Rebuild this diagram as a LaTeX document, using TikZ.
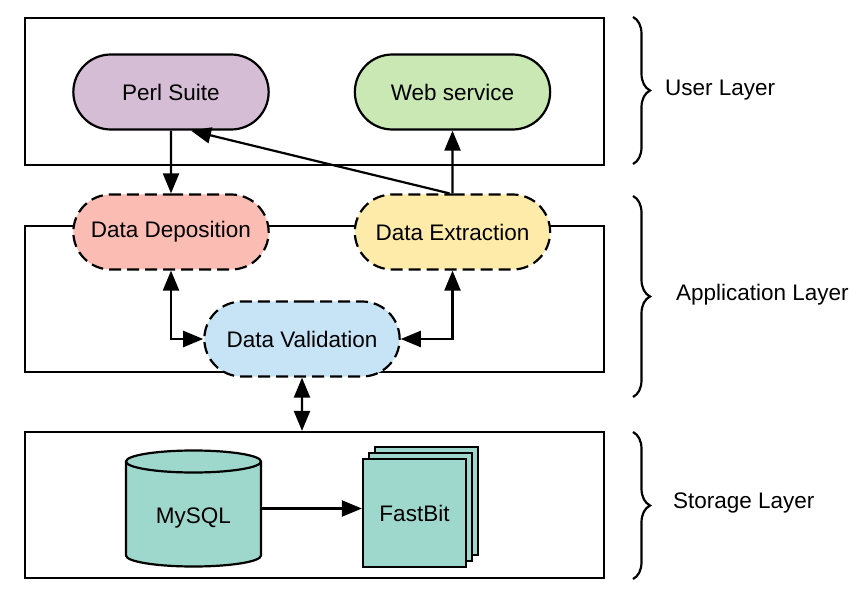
\documentclass[tikz,border=0pt]{standalone}
\usepackage{fontspec}
\setmainfont{Liberation Sans}
\usetikzlibrary{calc}
\usetikzlibrary{arrows.meta}
\usetikzlibrary{shapes.misc}
\usetikzlibrary{decorations.pathreplacing}
\usepackage{xcolor}

\definecolor{perlcol}{HTML}{D5BED5}
\definecolor{webcol}{HTML}{C9E8B3}
\definecolor{depcol}{HTML}{FBBCB4}
\definecolor{extcol}{HTML}{FEEBA9}
\definecolor{valcol}{HTML}{C6E4F6}
\definecolor{storecol}{HTML}{9ED8CC}

\begin{document}
\begin{tikzpicture}[x=1pt, y=-1pt, line width=2.2pt,
  >={Triangle[length=20pt,width=16pt]},
  font=\fontsize{22.5}{27}\selectfont,
  layer/.style={draw, rectangle, inner sep=0pt, minimum width=579pt, minimum height=146pt},
  pill/.style={rounded rectangle, draw, minimum width=202pt, minimum height=75pt},
  dpill/.style={pill, dash pattern=on 12pt off 6pt},
  sheet/.style={draw, fill=storecol, minimum width=103pt, minimum height=108pt},
  bracket/.style={decorate, decoration={brace, amplitude=17pt}}]

\useasboundingbox (0,0) rectangle (852,596);

% layers
\node[layer, minimum height=147pt] (user) at (314.5,91.5) {};
\node[layer] (app) at (314.5,299) {};
\node[layer] (store) at (314.5,505) {};

% user layer
\node[pill, fill=perlcol] (perl) at (171,92) {Perl Suite};
\node[pill, fill=webcol] (web) at (452.5,92) {Web service};

% application layer
\node[dpill, fill=depcol] (dep) at (171,232) {Data Deposition};
\node[dpill, fill=extcol] (ext) at (452.5,232) {Data Extraction};
\node[dpill, fill=valcol] (val) at (302,339) {Data Validation};

\draw[->] (perl) -- (dep);
\draw[->] (ext) -- (web);
\draw[->] ([xshift=-3pt]ext.north) -- ($(perl.south)+(20,0)$);
\draw[<->] (dep) |- (val);
\draw[<->] (ext) |- (val);
\draw[<->] (val) -- (val |- store.north);

% storage layer
\node[minimum width=135pt, minimum height=116pt] (mysql) at (193.5,508.5) {};
\draw[fill=storecol] (126,461.5) -- (126,555.5)
  arc[start angle=180, end angle=360, x radius=67.5pt, y radius=11pt]
  -- (261,461.5)
  arc[start angle=0, end angle=180, x radius=67.5pt, y radius=11pt] -- cycle;
\draw (126,461.5) arc[start angle=180, end angle=360, x radius=67.5pt, y radius=11pt];
\node (mysqltext) at (193.5,518) {MySQL};

\foreach \i in {2,1} {
 \node[sheet] (fb\i) at (414.5+6*\i,513-6*\i) {};
}
\node[sheet] (fb0) at (414.5,513) {FastBit};

\draw[->] (mysql.east) -- (mysql.east -| fb0.west);

% braces
\draw[bracket] (633,17) -- (633,164);
\draw[bracket] (633,196) -- (633,397);
\draw[bracket] (633,432) -- (633,579);
\node[anchor=west, inner sep=0pt] (userlbl) at (664,90) {User Layer};
\node[anchor=west, inner sep=0pt] (applbl) at (675,295) {Application Layer};
\node[anchor=west, inner sep=0pt] (storelbl) at (672,503) {Storage Layer};
\end{tikzpicture}
\end{document}
